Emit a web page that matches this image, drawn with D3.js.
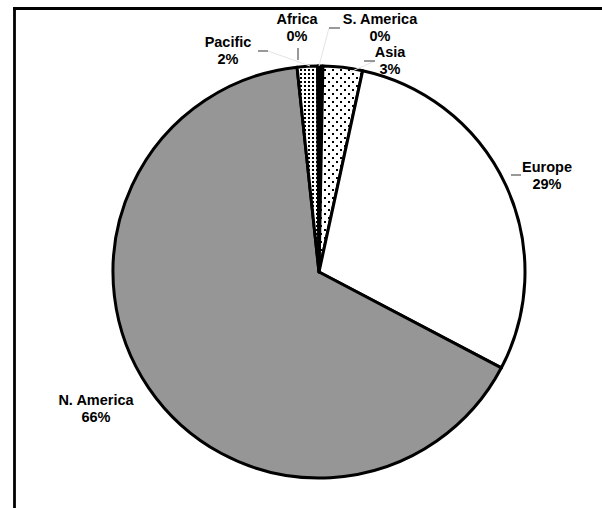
<!DOCTYPE html>
<html><head><meta charset="utf-8">
<script src="https://cdn.jsdelivr.net/npm/d3@7"></script>
<style>body{margin:0;background:#fff}svg{display:block}text{font-family:"Liberation Sans",Arial,sans-serif;font-weight:bold;font-size:14.5px;fill:#000}</style>
</head><body><svg id="c" width="602" height="508"></svg>
<script>
const categories = ["Africa","Asia","Europe","N. America","Pacific","S. America"];
const values = [0.3, 3.1, 29.3, 65.6, 1.6, 0.1];
const fills = ["#000","url(#dotsSparse)","#fff","#969696","url(#dotsDense)","#000"];
// label anchor positions (centre x, first baseline y) and leader segments
const labelPos = [[297,24],[390,57],[547,172],[96,405],[228,47],[380,24]];
const leaders = [[[298,48],[298,60]],[[364,61],[375,61]],[[511,175],[521,175]],null,[[258,51],[268,51]],[[329,28],[340,28]]];
const faint = [null,[[375,61],[350,72]],null,null,[[268,51],[310,66]],[[329,28],[319,66]]];

const svg = d3.select("#c");
const defs = svg.append("defs");
const p1 = defs.append("pattern").attr("id","dotsSparse").attr("patternUnits","userSpaceOnUse").attr("width",8).attr("height",8);
p1.append("rect").attr("width",8).attr("height",8).attr("fill","#fff");
p1.append("rect").attr("x",1).attr("y",1).attr("width",2).attr("height",2).attr("fill","#000");
p1.append("rect").attr("x",5).attr("y",5).attr("width",2).attr("height",2).attr("fill","#000");
const p2 = defs.append("pattern").attr("id","dotsDense").attr("patternUnits","userSpaceOnUse").attr("width",4).attr("height",4);
p2.append("rect").attr("width",4).attr("height",4).attr("fill","#fff");
p2.append("rect").attr("x",1).attr("y",1).attr("width",2).attr("height",2).attr("fill","#000");

// frame
svg.append("line").attr("x1",13).attr("x2",602).attr("y1",8.5).attr("y2",8.5).attr("stroke","#000").attr("stroke-width",2.8);
svg.append("line").attr("x1",14.5).attr("x2",14.5).attr("y1",7).attr("y2",508).attr("stroke","#000").attr("stroke-width",2.8);

const cx = 319, cy = 272, R = 206;
const total = d3.sum(values);
const data = categories.map((c,i)=>({name:c, value:values[i], i}));
const pie = d3.pie().sort(null).value(d=>d.value);
const arc = d3.arc().innerRadius(0).outerRadius(R);
const g = svg.append("g").attr("transform",`translate(${cx},${cy})`);
g.selectAll("path").data(pie(data)).join("path")
  .attr("d",arc).attr("fill",d=>fills[d.data.i])
  .attr("stroke","#000").attr("stroke-width",3).attr("stroke-linejoin","round");

const fmt = d3.format(".0%");
data.forEach((d,i)=>{
  if(faint[i]) svg.append("line").attr("x1",faint[i][0][0]).attr("y1",faint[i][0][1]).attr("x2",faint[i][1][0]).attr("y2",faint[i][1][1]).attr("stroke","#e4e4e4").attr("stroke-width",1);
  if(leaders[i]) svg.append("line").attr("x1",leaders[i][0][0]).attr("y1",leaders[i][0][1]).attr("x2",leaders[i][1][0]).attr("y2",leaders[i][1][1]).attr("stroke","#555").attr("stroke-width",1.2);
  const t = svg.append("text").attr("text-anchor","middle").attr("x",labelPos[i][0]).attr("y",labelPos[i][1]);
  t.append("tspan").attr("x",labelPos[i][0]).text(d.name);
  t.append("tspan").attr("x",labelPos[i][0]).attr("dy",17).text(fmt(d.value/total));
});
</script></body></html>
